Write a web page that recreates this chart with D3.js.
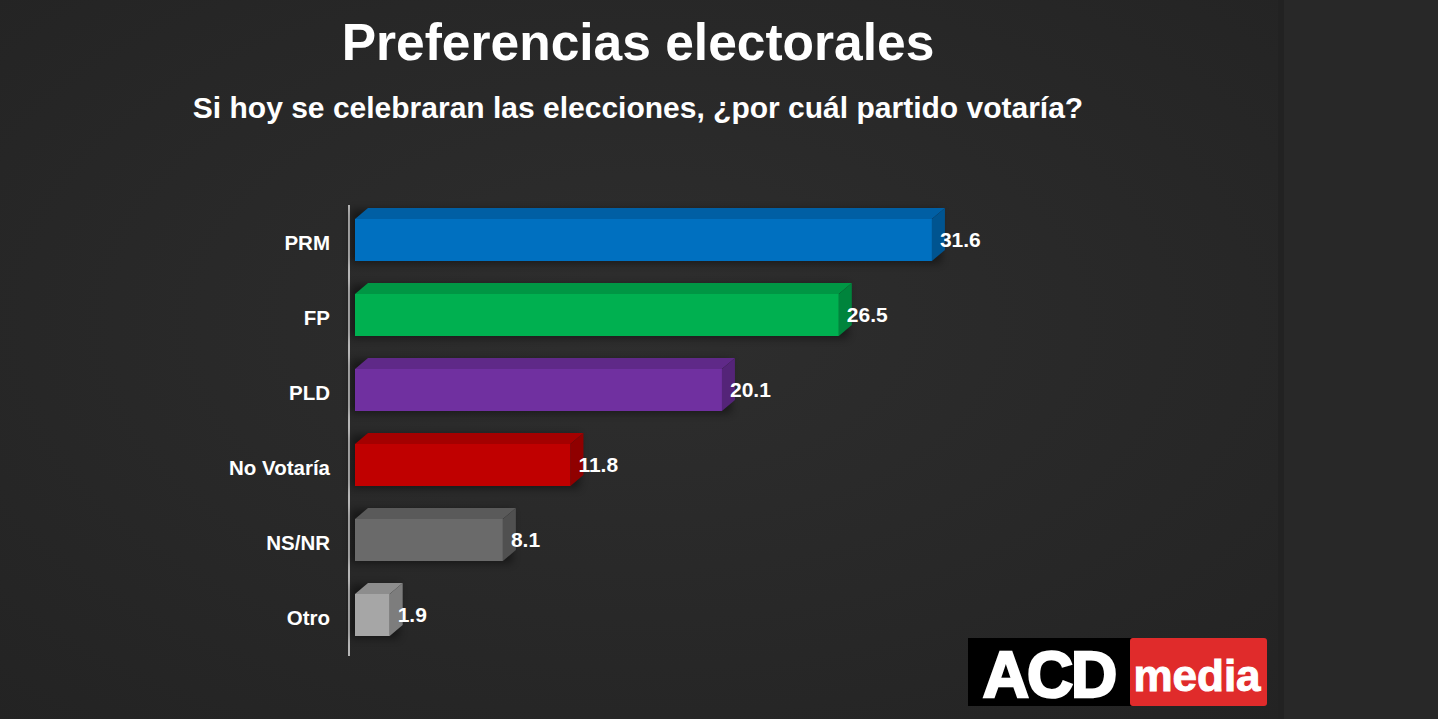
<!DOCTYPE html>
<html>
<head>
<meta charset="utf-8">
<script src="https://cdn.jsdelivr.net/npm/d3@7"></script>
<style>
  html, body { margin: 0; padding: 0; background: #262626; overflow: hidden; }
  svg { display: block; }
</style>
</head>
<body>
<div id="chart"></div>
<script>
// data
var categories = ["PRM", "FP", "PLD", "No Votaría", "NS/NR", "Otro"];
var values = [31.6, 26.5, 20.1, 11.8, 8.1, 1.9];
var colors = ["#0070c0", "#00b050", "#7030a0", "#c00000", "#6a6a6a", "#a6a6a6"];

var W = 1438, H = 719;
var dx = 13, dy = 11; // 3d depth

var svg = d3.select("#chart").append("svg")
  .attr("width", W).attr("height", H);

var defs = svg.append("defs");
var grad = defs.append("radialGradient").attr("id", "bg")
  .attr("cx", "50%").attr("cy", "45%").attr("r", "75%");
grad.append("stop").attr("offset", "0%").attr("stop-color", "#2e2e2e");
grad.append("stop").attr("offset", "100%").attr("stop-color", "#232323");

var shadow = defs.append("filter").attr("id", "shadow")
  .attr("x", "-10%").attr("y", "-40%").attr("width", "130%").attr("height", "180%");
shadow.append("feGaussianBlur").attr("stdDeviation", 4);

// background
svg.append("rect").attr("width", 1278).attr("height", H).attr("fill", "url(#bg)");
svg.append("rect").attr("x", 1278).attr("width", W - 1278).attr("height", H).attr("fill", "#282828");
svg.append("rect").attr("x", 1278).attr("width", 6).attr("height", H).attr("fill", "#222");

// titles
svg.append("text")
  .attr("x", 638).attr("y", 60)
  .attr("text-anchor", "middle")
  .attr("fill", "#fff")
  .style("font-family", "'Liberation Sans', Arial, sans-serif")
  .style("font-weight", "700")
  .style("font-size", "51.5px")
  .text("Preferencias electorales");

svg.append("text")
  .attr("x", 638).attr("y", 118)
  .attr("text-anchor", "middle")
  .attr("fill", "#fff")
  .style("font-family", "'Liberation Sans', Arial, sans-serif")
  .style("font-weight", "700")
  .style("font-size", "30px")
  .text("Si hoy se celebraran las elecciones, ¿por cuál partido votaría?");

// scales
var x = d3.scaleLinear().domain([0, 35]).range([355, 994]);
var y = d3.scaleBand().domain(categories)
  .range([202.5, 652.5]).paddingInner(0.44).paddingOuter(0.22);

var data = categories.map(function(c, i) {
  return { name: c, value: values[i], color: colors[i] };
});

// axis line
svg.append("line")
  .attr("x1", 349).attr("x2", 349)
  .attr("y1", 205).attr("y2", 656)
  .attr("stroke", "#e6e6e6").attr("stroke-width", 1.5);

var g = svg.selectAll("g.bar").data(data).enter().append("g").attr("class", "bar");

// soft shadow
g.append("rect")
  .attr("x", x(0) - 4)
  .attr("y", function(d) { return y(d.name) - dy + 2; })
  .attr("width", function(d) { return x(d.value) - x(0) + dx; })
  .attr("height", y.bandwidth() + dy)
  .attr("fill", "#000").attr("opacity", 0.45)
  .attr("filter", "url(#shadow)");

// top face
g.append("path")
  .attr("d", function(d) {
    var x0 = x(0), x1 = x(d.value), y0 = y(d.name);
    return "M" + x0 + "," + y0 + "L" + (x0 + dx) + "," + (y0 - dy) +
      "L" + (x1 + dx) + "," + (y0 - dy) + "L" + x1 + "," + y0 + "Z";
  })
  .attr("fill", function(d) { return d3.color(d.color).darker(0.45); });

// side face
g.append("path")
  .attr("d", function(d) {
    var x1 = x(d.value), y0 = y(d.name), y1 = y0 + y.bandwidth();
    return "M" + x1 + "," + y0 + "L" + (x1 + dx) + "," + (y0 - dy) +
      "L" + (x1 + dx) + "," + (y1 - dy) + "L" + x1 + "," + y1 + "Z";
  })
  .attr("fill", function(d) { return d3.color(d.color).darker(0.8); });

// front face
g.append("rect")
  .attr("x", x(0))
  .attr("y", function(d) { return y(d.name); })
  .attr("width", function(d) { return x(d.value) - x(0); })
  .attr("height", y.bandwidth())
  .attr("fill", function(d) { return d.color; });

// values
g.append("text")
  .attr("x", function(d) { return x(d.value) + 8; })
  .attr("y", function(d) { return y(d.name) + y.bandwidth() / 2; })
  .attr("dy", "0.35em")
  .attr("fill", "#fff")
  .style("font-family", "'Liberation Sans', Arial, sans-serif")
  .style("font-weight", "700")
  .style("font-size", "21px")
  .text(function(d) { return d.value.toFixed(1); });

// category labels
svg.selectAll("text.cat").data(data).enter().append("text")
  .attr("class", "cat")
  .attr("x", 330)
  .attr("y", function(d) { return y(d.name) + y.bandwidth() / 2 + 3; })
  .attr("dy", "0.35em")
  .attr("text-anchor", "end")
  .attr("fill", "#fff")
  .style("font-family", "'Liberation Sans', Arial, sans-serif")
  .style("font-weight", "700")
  .style("font-size", "20.5px")
  .text(function(d) { return d.name; });

// logo
var logo = svg.append("g");
logo.append("rect").attr("x", 968).attr("y", 638).attr("width", 164).attr("height", 68).attr("fill", "#000");
logo.append("rect").attr("x", 1130).attr("y", 638).attr("width", 137).attr("height", 68).attr("rx", 3).attr("fill", "#e02b2b");
logo.append("text")
  .attr("x", 1049).attr("y", 697)
  .attr("text-anchor", "middle")
  .attr("fill", "#fff")
  .attr("stroke", "#fff").attr("stroke-width", 2.5)
  .style("font-family", "'Liberation Sans', Arial, sans-serif")
  .style("font-weight", "900")
  .style("font-size", "64px")
  .style("letter-spacing", "-2px")
  .text("ACD");
logo.append("text")
  .attr("x", 1197).attr("y", 691)
  .attr("text-anchor", "middle")
  .attr("fill", "#fff")
  .attr("stroke", "#fff").attr("stroke-width", 1)
  .style("font-family", "'Liberation Sans', Arial, sans-serif")
  .style("font-weight", "700")
  .style("font-size", "44px")
  .text("media");
</script>
</body>
</html>
